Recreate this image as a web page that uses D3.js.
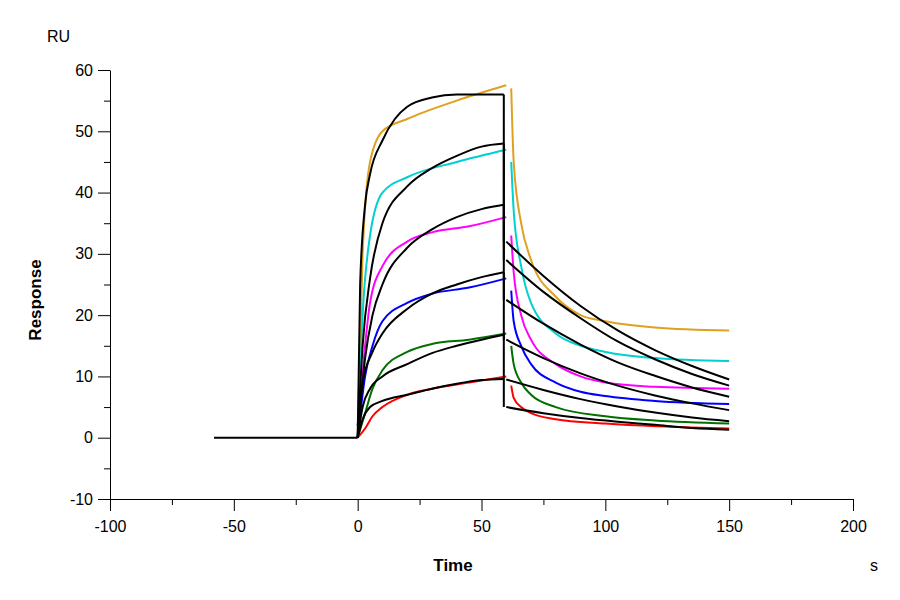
<!DOCTYPE html><html><head><meta charset="utf-8"><script src="https://d3js.org/d3.v7.min.js"></script>
<style>body{margin:0;background:#fff}text{font-family:Arial,"Liberation Sans",sans-serif}</style></head><body>
<svg id="c" width="900" height="600"></svg>
<script>
const xTicks=[-100,-50,0,50,100,150,200];
const yTicks=[-10,0,10,20,30,40,50,60];
const colors=["#e0a020","#00d0d0","#ff00ff","#0000ff","#007000","#ff0000"];
const baseline=[[-58,0],[-40,0],[-20,0],[0,0]];
const assoc=[
[[0,0],[2,30],[5,45],[10,50],[20,52],[40,55],[60,57.5]],
[[0,0],[2,20],[5,33],[10,40],[20,42.5],[40,45],[60,47]],
[[0,0],[3,15],[5,22],[10,28],[20,32],[30,33.5],[45,34.5],[60,36]],
[[0,0],[3,10],[6,15],[10,19],[20,22],[30,23.5],[45,24.5],[60,26]],
[[0,0],[3,4],[6,8],[10,11],[20,14],[30,15.3],[45,16],[60,17]],
[[0,0],[3,1.5],[6,3.5],[10,5],[20,7],[30,8],[45,9],[60,10]]];
const dissoc=[
[[62,57],[63,45],[66,35],[70,29],[80,23],[90,20],[100,19],[120,18],[150,17.5]],
[[62,45],[63,37],[66,28],[70,22],[80,17],[90,15],[100,14],[120,13],[150,12.5]],
[[62,33],[63,27],[66,20],[70,16],[80,12],[90,10],[100,9],[120,8.3],[150,8]],
[[62,24],[63,19],[66,15],[70,12],[80,9],[90,7.5],[100,6.8],[120,6],[150,5.5]],
[[62,15],[63,12],[66,9],[70,7],[80,5],[100,3.5],[120,2.8],[150,2.3]],
[[62,8.5],[63,6.5],[66,5],[70,4],[80,3],[100,2.3],[150,1.5]]];
const fitAssoc=[
[[0,0],[1,25],[3,38],[5,43],[10,48.5],[15,52],[20,54],[30,55.5],[40,56],[59,56]],
[[0,0],[2,15],[5,26],[10,35],[20,41],[30,44],[40,46],[50,47.5],[59,48]],
[[0,0],[3,13],[6,20],[10,25],[20,31],[30,34],[40,36],[50,37.3],[59,38]],
[[0,2],[2,9],[6,14],[10,17],[20,21],[30,23.5],[40,25],[50,26.2],[59,27]],
[[0,0],[2,5],[5,8],[10,10],[20,12],[30,13.8],[40,15],[50,16],[59,16.8]],
[[0,0],[2,3],[5,5],[10,6],[20,7],[30,8],[40,8.8],[50,9.4],[59,9.6]]];
const fitT=[60,75,90,105,120,135,150];
const fitDissoc=[[32,26.4,21.5,17.5,14.3,11.7,9.5],[29,23.8,19.5,15.7,12.8,10.4,8.5],[22.5,18.6,15.2,12.3,10.1,8.2,6.7],[16,13,10.5,8.5,6.9,5.6,4.5],[9.5,7.8,6.3,5.1,4.1,3.3,2.7],[5,4,3.2,2.6,2.1,1.6,1.3]];
const svg=d3.select("#c");
const x=d3.scaleLinear().domain([-100,200]).range([110,853]);
const y=d3.scaleLinear().domain([-10,60]).range([499,70]);
const line=d3.line().x(d=>x(d[0])).y(d=>y(d[1])).curve(d3.curveMonotoneX);
const fmt=d=>String(d);
const ax=svg.append("g").attr("transform","translate(0,499)").call(d3.axisBottom(x).tickValues(xTicks).tickSize(12).tickSizeOuter(0).tickFormat(fmt));
svg.append("g").attr("transform","translate(0,499)").call(d3.axisBottom(x).tickValues(d3.range(-75,200,50)).tickSize(6).tickFormat("")).select(".domain").remove();
const ay=svg.append("g").attr("transform","translate(110,0)").call(d3.axisLeft(y).tickValues(yTicks).tickSize(12).tickSizeOuter(0).tickFormat(fmt));
svg.append("g").attr("transform","translate(110,0)").call(d3.axisLeft(y).tickValues(d3.range(-5,60,10)).tickSize(6).tickFormat("")).select(".domain").remove();
svg.selectAll(".tick text").attr("font-size",16).attr("font-family","Arial");
ax.selectAll(".tick text").attr("dy","1.1em");
ay.selectAll(".tick text").attr("dx","-2");
svg.selectAll(".domain,.tick line").attr("stroke","#000");
const g=svg.append("g").attr("fill","none").attr("stroke-width",2);
g.append("path").attr("d",line(baseline)).attr("stroke","#000");
colors.forEach((c,i)=>{
 g.append("path").attr("d",line(assoc[i])).attr("stroke",c);
 g.append("path").attr("d",line(dissoc[i])).attr("stroke",c);
});
colors.forEach((c,i)=>{
 g.append("path").attr("d",line(fitAssoc[i])).attr("stroke","#000");
 const fd=fitT.map((t,j)=>[t,fitDissoc[i][j]]);
 g.append("path").attr("d",line([[59,fitAssoc[i][fitAssoc[i].length-1][1]],[59.01,fitDissoc[i][0]]]).replace(/C/g,"L")).attr("stroke","#000");
 g.append("path").attr("d",line(fd)).attr("stroke","#000");
});
svg.append("text").attr("x",47).attr("y",42).attr("font-size",16).text("RU");
svg.append("text").attr("x",453).attr("y",571).attr("font-size",17).attr("font-weight","bold").attr("text-anchor","middle").text("Time");
svg.append("text").attr("x",870).attr("y",571).attr("font-size",16).text("s");
svg.append("text").attr("transform","translate(41,300) rotate(-90)").attr("font-size",17).attr("font-weight","bold").attr("text-anchor","middle").text("Response");
</script></body></html>
